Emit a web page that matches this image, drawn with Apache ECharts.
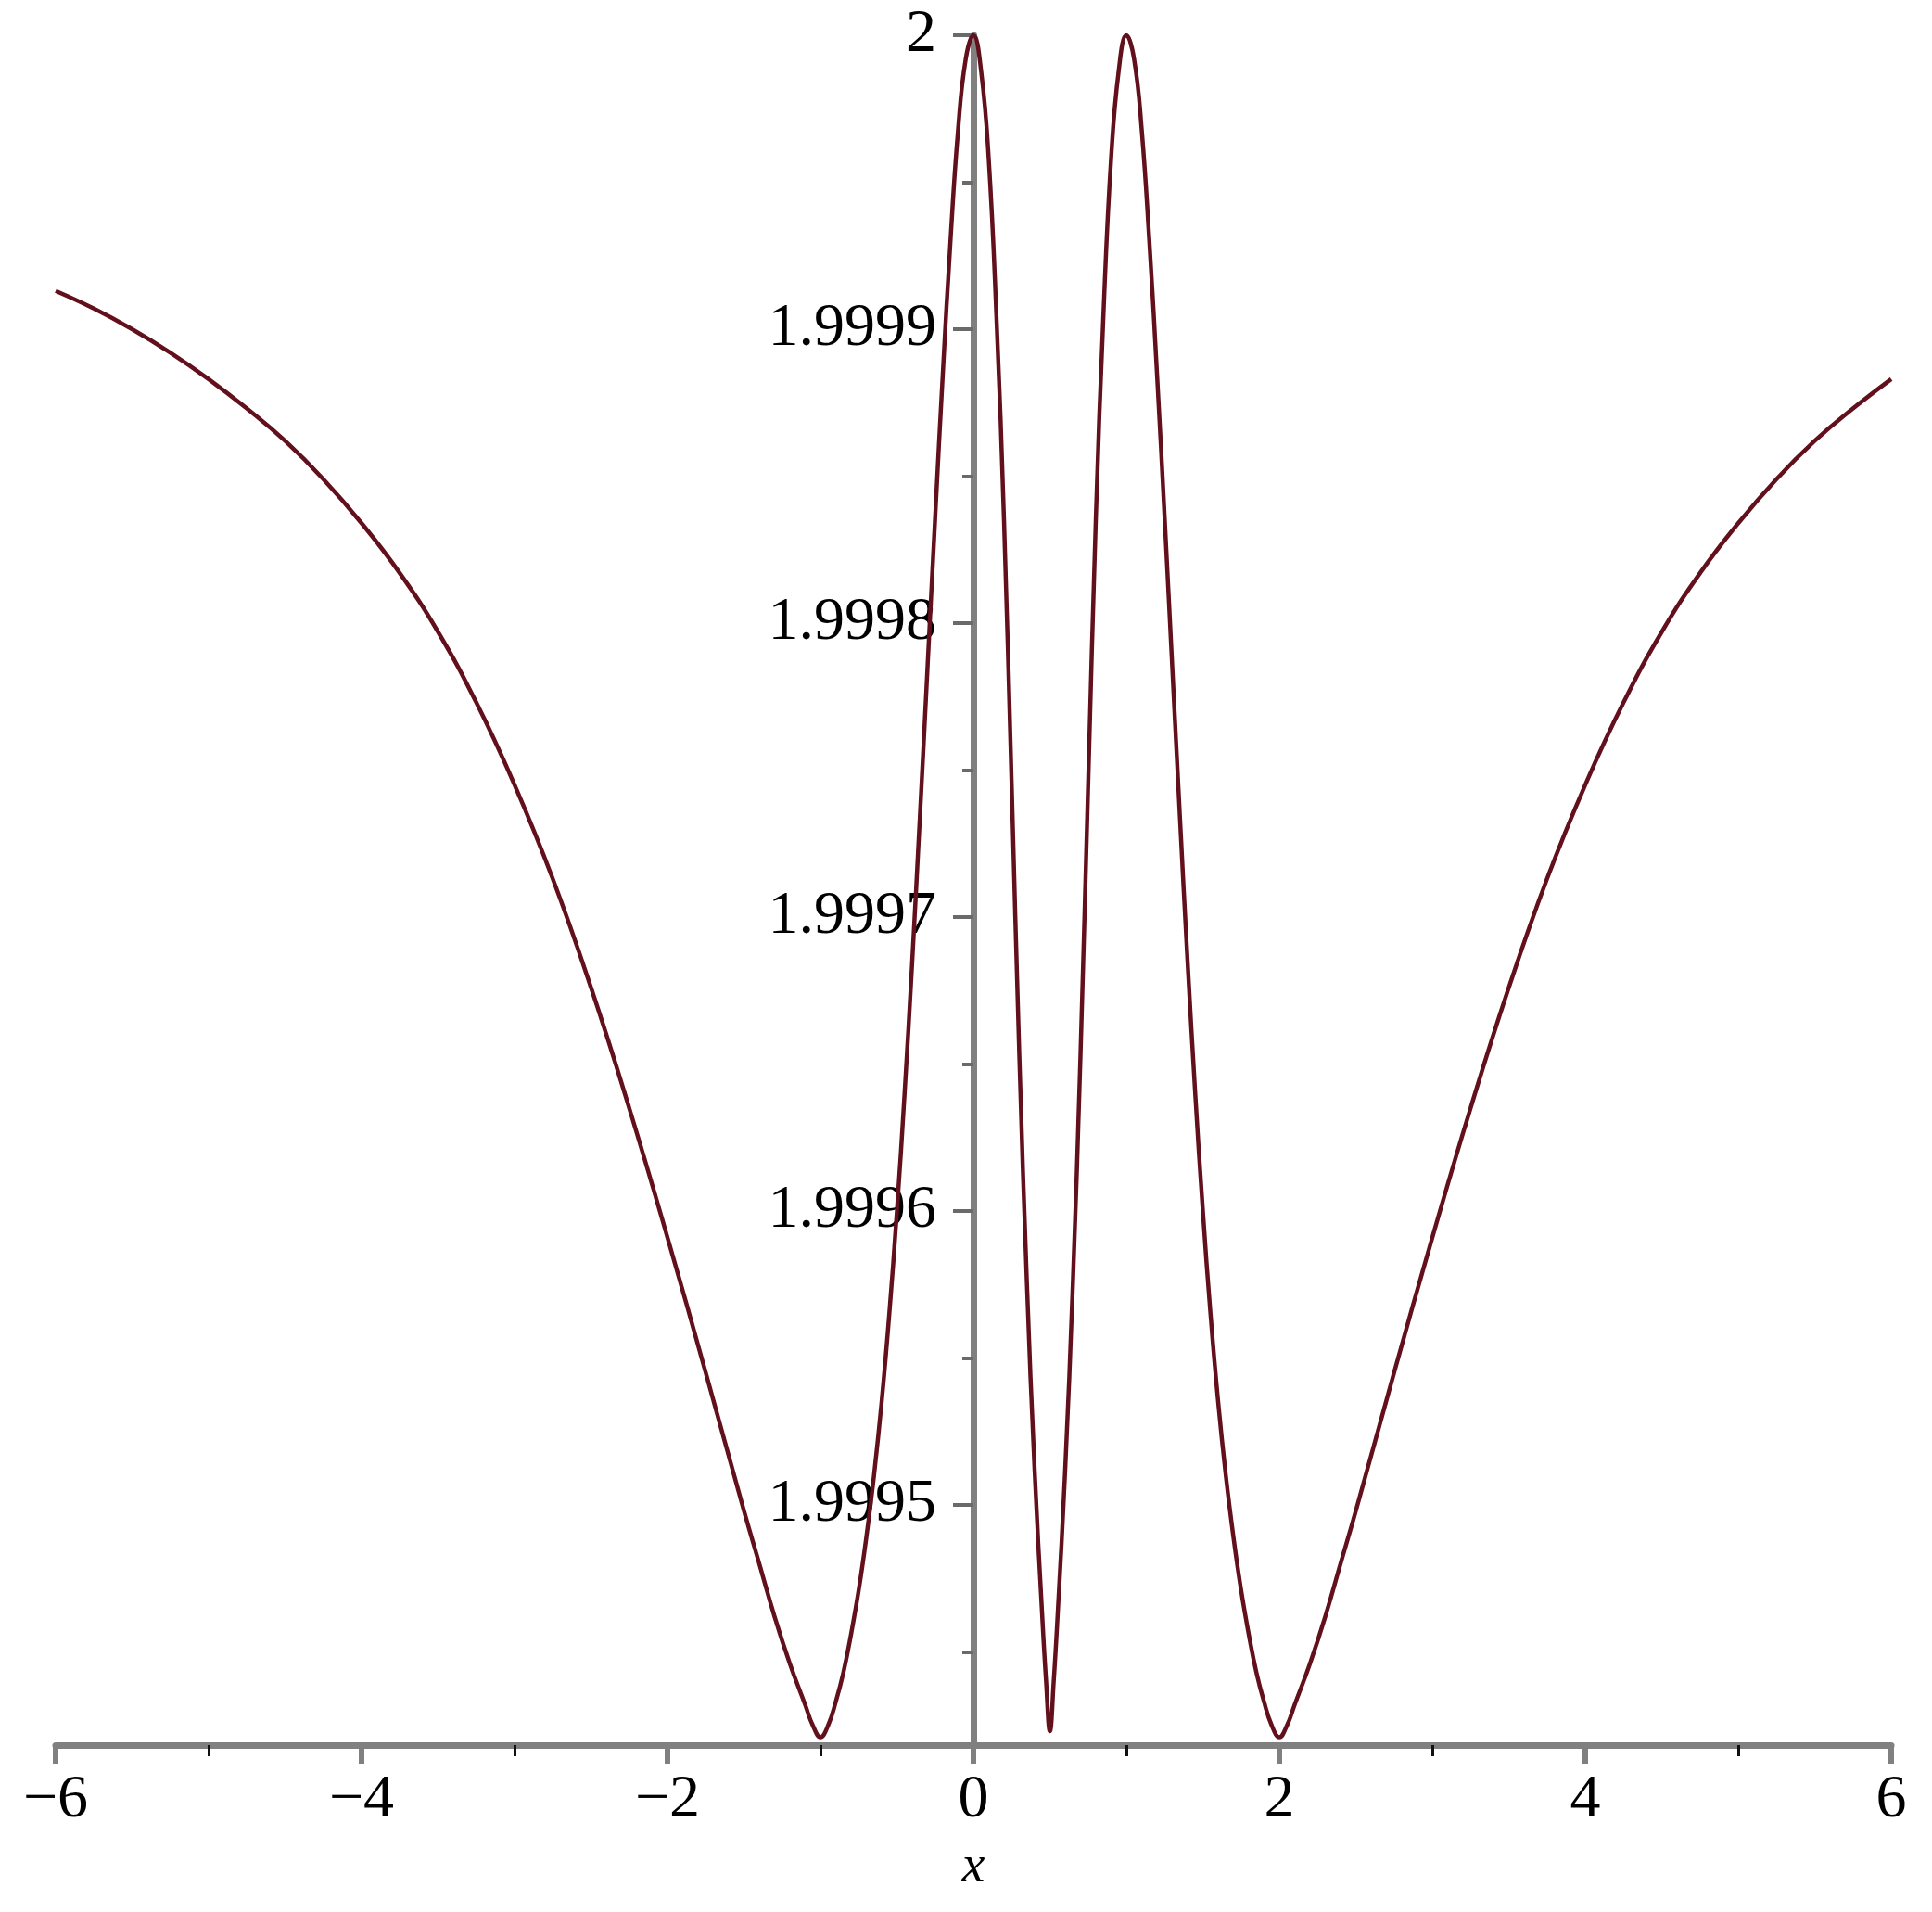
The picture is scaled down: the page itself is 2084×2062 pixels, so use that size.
<!DOCTYPE html>
<html>
<head>
<meta charset="utf-8">
<script src="https://cdn.jsdelivr.net/npm/echarts@6/dist/echarts.min.js"></script>
<style>
html,body{margin:0;padding:0;background:#fff;}
#chart{width:2084px;height:2062px;}
</style>
</head>
<body>
<div id="chart"></div>
<script>
// x positions
const xs = [-6,-5.75,-5.5,-5.25,-5,-4.75,-4.5,-4.25,-4,-3.75,-3.5,-3.25,-3,-2.75,-2.5,-2.25,-2,-1.75,-1.5,-1.4,-1.3,-1.2,-1.1,-1.05,-1,
  -0.95,-0.9,-0.85,-0.8,-0.75,-0.7,-0.65,-0.6,-0.55,-0.5,-0.45,-0.4,-0.35,-0.3,-0.25,-0.2,-0.15,-0.1,-0.05,0,
  0.05,0.1,0.15,0.2,0.25,0.3,0.35,0.4,0.45,0.475,0.5,
  0.525,0.55,0.6,0.65,0.7,0.75,0.8,0.85,0.9,0.95,1,
  1.05,1.1,1.15,1.2,1.25,1.3,1.35,1.4,1.45,1.5,1.55,1.6,1.65,1.7,1.75,1.8,1.85,1.9,1.95,2,
  2.05,2.1,2.2,2.3,2.4,2.5,2.75,3,3.25,3.5,3.75,4,4.25,4.5,4.75,5,5.25,5.5,5.75,6];
// curve values
const ys = [1.999913,1.999907,1.9999,1.999892,1.999883,1.999873,1.999862,1.999849,1.999834,1.999817,1.999797,1.999773,1.999745,1.999713,1.999676,1.999635,1.999591,1.999545,1.999498,1.99948,1.999462,1.999446,1.999432,1.999425,1.999421,
  1.999425,1.999433,1.999443,1.999456,1.999471,1.999489,1.99951,1.999535,1.999565,1.9996,1.99964,1.999685,1.999734,1.999785,1.999836,1.999885,1.99993,1.999968,1.999992,2,
  1.999988,1.999958,1.999905,1.999835,1.999745,1.999653,1.999575,1.999512,1.999462,1.99944,1.999423,
  1.99944,1.999462,1.999512,1.999575,1.999653,1.999745,1.999835,1.999905,1.999958,1.999988,2,
  1.999992,1.999968,1.99993,1.999885,1.999836,1.999785,1.999734,1.999685,1.99964,1.9996,1.999565,1.999535,1.99951,1.999489,1.999471,1.999456,1.999443,1.999433,1.999425,1.999421,
  1.999425,1.999432,1.999446,1.999462,1.99948,1.999498,1.999545,1.999591,1.999635,1.999676,1.999713,1.999745,1.999773,1.999797,1.999817,1.999834,1.999849,1.999862,1.999873,1.999883];

const xMin = -6, xMax = 6, xStep = 2;
const yMin = 1.9994183, yMax = 2;
const yMajorTicks = [1.9995, 1.9996, 1.9997, 1.9998, 1.9999, 2];
const yMinorTicks = [1.99945, 1.99955, 1.99965, 1.99975, 1.99985, 1.99995];
const xName = 'x';

const chart = echarts.init(document.getElementById('chart'));
const gridLeft = 60, gridRight = 44;
const gridW = chart.getWidth() - gridLeft - gridRight;
const yOffset = -gridW * (0 - xMin) / (xMax - xMin);

const data = xs.map((x, i) => [x, ys[i]]);
const font = '"Liberation Serif", "Times New Roman", serif';
const axisGray = '#808080';

chart.setOption({
  backgroundColor: '#ffffff',
  animation: false,
  grid: {left: gridLeft, right: gridRight, top: 38, bottom: 180, containLabel: false, outerBoundsMode: 'none'},
  xAxis: {
    type: 'value', min: xMin, max: xMax, interval: xStep,
    name: xName, nameLocation: 'middle', nameGap: 104,
    nameTextStyle: {fontFamily: font, fontStyle: 'italic', fontSize: 56, color: '#000'},
    axisLine: {show: true, onZero: false, lineStyle: {color: axisGray, width: 7}},
    axisTick: {show: true, length: 20, lineStyle: {color: axisGray, width: 6}},
    minorTick: {show: true, splitNumber: 2, length: 12, lineStyle: {color: '#111', width: 3}},
    splitLine: {show: false}, minorSplitLine: {show: false},
    axisLabel: {fontFamily: font, fontSize: 66, color: '#000', margin: 27,
      formatter: v => String(v).replace('-', '\u2212')}
  },
  yAxis: [{
    type: 'value', min: yMin, max: yMax, position: 'left', offset: yOffset,
    axisLine: {show: true, onZero: false, lineStyle: {color: axisGray, width: 7}},
    axisTick: {show: true, length: 22, customValues: yMajorTicks, lineStyle: {color: '#6a6a6a', width: 4}},
    splitLine: {show: false},
    axisLabel: {fontFamily: font, fontSize: 66, color: '#000', margin: 40,
      customValues: yMajorTicks,
      formatter: v => (Math.abs(v - 2) < 1e-9 ? '2' : Number(v).toFixed(4))}
  }, {
    type: 'value', min: yMin, max: yMax, position: 'left', offset: yOffset,
    axisLine: {show: false, onZero: false},
    axisTick: {show: true, length: 12, customValues: yMinorTicks, lineStyle: {color: '#6a6a6a', width: 4}},
    splitLine: {show: false},
    axisLabel: {show: false}
  }],
  series: [{
    type: 'line', data: data, xAxisIndex: 0, yAxisIndex: 0,
    showSymbol: false, smooth: 0.45,
    lineStyle: {color: '#63101d', width: 4.5},
    z: 1
  }]
});
</script>
</body>
</html>
